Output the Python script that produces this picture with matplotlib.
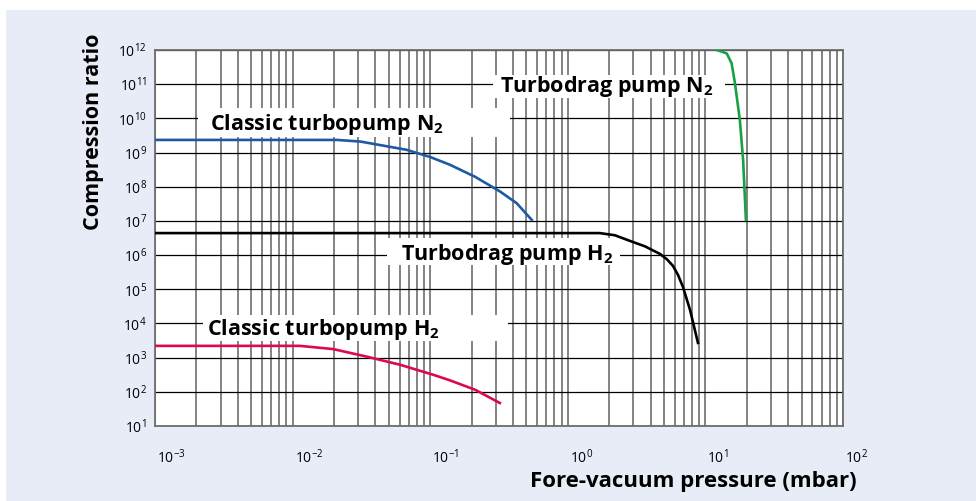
import matplotlib
matplotlib.use("Agg")
from matplotlib import pyplot as plt
from matplotlib import ticker
from matplotlib import transforms as mtrans
from matplotlib.patches import Rectangle
import numpy as np

plt.rcParams['font.family'] = ['Open Sans', 'DejaVu Sans']

# curves (pressure in mbar, compression ratio)
classic_n2_p = [1e-3, 0.021, 0.031, 0.0431, 0.0675, 0.1, 0.139, 0.212, 0.321, 0.425, 0.547]
classic_n2_k = [2.34e9, 2.34e9, 2.1e9, 1.66e9, 1.2e9, 7.4e8, 4.4e8, 1.95e8, 7.3e7, 3.3e7, 1.07e7]

turbodrag_n2_p = [12.08, 13.2, 14.3, 15.5, 16.4, 17.8, 18.8, 19.7]
turbodrag_n2_k = [1.0e12, 8.9e11, 7.9e11, 4.1e11, 1.07e11, 8.9e9, 6.0e8, 1.07e7]

turbodrag_h2_p = [1e-3, 1.0, 1.71, 2.2, 2.83, 3.64, 4.68, 5.26, 5.82, 6.33, 6.87, 7.73, 8.83]
turbodrag_h2_k = [4.4e6, 4.4e6, 4.4e6, 3.8e6, 2.6e6, 1.8e6, 1.08e6, 7.5e5, 4.8e5, 2.6e5,
                  1.17e5, 2.5e4, 2.7e3]

classic_h2_p = [1e-3, 0.0113, 0.0197, 0.0346, 0.0603, 0.105, 0.139, 0.212, 0.321]
classic_h2_k = [2.21e3, 2.21e3, 1.78e3, 1.07e3, 6.2e2, 3.16e2, 2.17e2, 1.15e2, 47]

x_decades = [-3, -2, -1, 0, 1, 2]
y_decades = list(range(1, 13))

fig = plt.figure(figsize=(9.76, 5.01), dpi=100, facecolor='white')
fig.patches.append(Rectangle((6 / 976, 0), 1, 1 - 10 / 501, transform=fig.transFigure,
                             facecolor='#e8ecf7', edgecolor='none', zorder=-10))
ax = fig.add_axes([155 / 976, 1 - 426 / 501, 688 / 976, 376 / 501])
ax.set_facecolor('white')
ax.set_xscale('log')
ax.set_yscale('log')
ax.set_xlim(1e-3, 1e2)
ax.set_ylim(1e1, 1e12)

ax.set_xticks([10.0 ** k for k in x_decades])
ax.xaxis.set_minor_locator(ticker.LogLocator(base=10, subs=np.arange(2, 10)))
ax.xaxis.set_minor_formatter(ticker.NullFormatter())
ax.set_yticks([10.0 ** k for k in y_decades])
ax.yaxis.set_minor_locator(ticker.NullLocator())
ax.set_xticklabels([r'$\mathregular{10^{%d}}$' % k for k in x_decades], ha='left')
ax.set_yticklabels([r'$\mathregular{10^{%d}}$' % k for k in y_decades])
ax.tick_params(axis='both', which='both', length=0, labelsize=10)
ax.tick_params(axis='x', pad=16)
ax.tick_params(axis='y', pad=6)
# x tick labels sit a little right of their gridlines
offset = mtrans.ScaledTranslation(2 / 100, 0, fig.dpi_scale_trans)
for lab in ax.get_xticklabels():
    lab.set_transform(lab.get_transform() + offset)

ax.grid(True, which='both', axis='x', color='#6e6e6e', lw=1.2, zorder=0)
ax.grid(True, which='major', axis='y', color='black', lw=0.9, zorder=0)
for s in ax.spines.values():
    s.set_color('#6e6e6e')
    s.set_linewidth(1.3)

# white label boxes: (x0, x1, y0, y1) in data units
boxes = [
    (0.00205, 0.38, 2.86e9, 2.0e10),
    (0.286, 13.9, 4.0e10, 1.86e11),
    (0.0485, 2.39, 5.2e5, 3.18e6),
    (0.00223, 0.367, 3.09e3, 1.78e4),
]
for x0, x1, y0, y1 in boxes:
    ax.add_patch(Rectangle((x0, y0), x1 - x0, y1 - y0, facecolor='white',
                           edgecolor='none', zorder=2))

lw = 1.9
ax.plot(classic_n2_p, classic_n2_k, color='#1d5aa3', lw=lw, zorder=3)
ax.plot(turbodrag_n2_p, turbodrag_n2_k, color='#17a046', lw=lw, zorder=3)
ax.plot(turbodrag_h2_p, turbodrag_h2_k, color='black', lw=lw, zorder=3)
ax.plot(classic_h2_p, classic_h2_k, color='#dc0a4b', lw=lw, zorder=3)

lbl = dict(fontsize=15.5, fontweight='bold', va='baseline', ha='left', zorder=4)
ax.text(0.00251, 4.6e9, r'Classic turbopump N$\mathregular{_2}$', **lbl)
ax.text(0.321, 6.0e10, r'Turbodrag pump N$\mathregular{_2}$', **lbl)
ax.text(0.061, 7.2e5, r'Turbodrag pump H$\mathregular{_2}$', **lbl)
ax.text(0.00238, 4.6e3, r'Classic turbopump H$\mathregular{_2}$', **lbl)

fig.text(93 / 976, 1 - 132 / 501, 'Compression ratio', rotation=90, fontsize=15.5,
         fontweight='bold', ha='center', va='center')
fig.text(857 / 976, 1 - 481 / 501, 'Fore-vacuum pressure (mbar)', fontsize=16,
         fontweight='bold', ha='right', va='center')

fig.savefig('out.png', dpi=100, facecolor='white')
